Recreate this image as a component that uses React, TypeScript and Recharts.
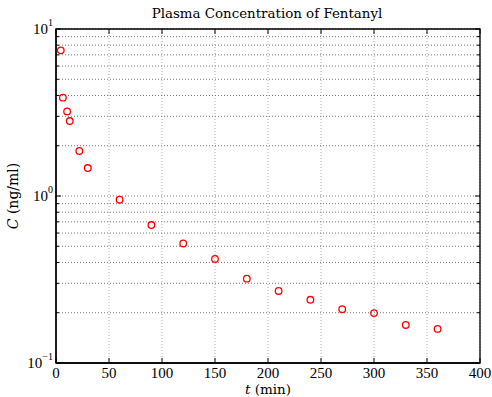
import React from 'react';
import { ScatterChart, Scatter, XAxis, YAxis, CartesianGrid, ReferenceArea } from 'recharts';

// sampling times (min) and plasma concentration (ng/ml)
const times = [4.5, 6.5, 10.5, 13, 22, 30, 60, 90, 120, 150, 180, 210, 240, 270, 300, 330, 360];
const conc = [7.45, 3.88, 3.21, 2.81, 1.86, 1.47, 0.95, 0.67, 0.52, 0.42, 0.32, 0.27, 0.239, 0.21, 0.199, 0.169, 0.16];

const xTicks = [0, 50, 100, 150, 200, 250, 300, 350, 400];
const yTicks = [0.1, 0.2, 0.3, 0.4, 0.5, 0.6, 0.7, 0.8, 0.9, 1, 2, 3, 4, 5, 6, 7, 8, 9, 10];

const W = 492;
const H = 397;
const LEFT = 56;
const TOP = 29;
const RIGHT = 480;
const BOTTOM = 363;
const NUM_FONT = '"Liberation Serif", serif';
const TXT_FONT = '"DejaVu Serif", serif';

const data = times.map((t, i) => ({ t, c: conc[i] }));

const YTick = (props: any) => {
    const { x, y, payload } = props;
    const v = payload.value;
    const exp = Math.round(Math.log10(v));
    const major = Math.abs(v - Math.pow(10, exp)) < 1e-9;
    const len = major ? 5 : 3;
    return (
        <g>
            <line x1={x} x2={x + len} y1={y} y2={y} stroke="#000" />
            <line x1={RIGHT} x2={RIGHT - len} y1={y} y2={y} stroke="#000" />
            {major && (
                <text x={x - 3} y={y + 5} textAnchor="end" fontFamily={NUM_FONT} fontSize={15} fill="#000">
                    10
                    <tspan dy={-8} fontSize={10}>{exp < 0 ? '\u2212' + -exp : exp}</tspan>
                </text>
            )}
        </g>
    );
};

const XTick = (props: any) => {
    const { x, y, payload } = props;
    return (
        <g>
            <line x1={x} x2={x} y1={y} y2={y - 5} stroke="#000" />
            <line x1={x} x2={x} y1={TOP} y2={TOP + 5} stroke="#000" />
            <text x={x} y={y + 15} textAnchor="middle" fontFamily={NUM_FONT} fontSize={15} fill="#000">
                {payload.value}
            </text>
        </g>
    );
};

const Dot = (props: any) => (
    <circle cx={props.cx} cy={props.cy} r={3.3} fill="none" stroke="#ff0000" strokeWidth={1.3} />
);

export default function App() {
    return (
        <div style={{ position: 'fixed', left: 0, top: 0, width: W, height: H, background: '#fff' }}>
            <ScatterChart width={W} height={H} margin={{ top: TOP, right: W - RIGHT, left: 6, bottom: 4 }}>
                <CartesianGrid horizontal={false} stroke="#aaa" strokeDasharray="1 2" />
                <CartesianGrid vertical={false} stroke="#777" strokeDasharray="1 2" />
                <XAxis
                    type="number"
                    dataKey="t"
                    domain={[0, 400]}
                    ticks={xTicks}
                    height={H - BOTTOM - 4}
                    tickSize={0}
                    tickMargin={0}
                    tickLine={false}
                    tick={<XTick />}
                    axisLine={{ stroke: '#000', strokeWidth: 1.3 }}
                />
                <YAxis
                    type="number"
                    dataKey="c"
                    scale="log"
                    domain={[0.1, 10]}
                    allowDataOverflow
                    ticks={yTicks}
                    interval={0}
                    width={LEFT - 6}
                    tickSize={0}
                    tickMargin={0}
                    tickLine={false}
                    tick={<YTick />}
                    axisLine={{ stroke: '#000', strokeWidth: 1.3 }}
                />
                <ReferenceArea x1={0} x2={400} y1={0.1} y2={10} fill="none" stroke="#000" strokeWidth={1.3} />
                <Scatter data={data} shape={<Dot />} isAnimationActive={false} />
                <text x={267} y={18} textAnchor="middle" fontFamily={TXT_FONT} fontSize={13.4} fill="#000">
                    Plasma Concentration of Fentanyl
                </text>
                <text x={268} y={394} textAnchor="middle" fontFamily={TXT_FONT} fontSize={13.5} fill="#000">
                    <tspan fontStyle="italic">t</tspan> (min)
                </text>
                <text
                    x={18}
                    y={196}
                    transform="rotate(-90 18 196)"
                    textAnchor="middle"
                    fontFamily={TXT_FONT}
                    fontSize={14}
                    fill="#000"
                >
                    <tspan fontStyle="italic">C</tspan> (ng/ml)
                </text>
            </ScatterChart>
        </div>
    );
}
